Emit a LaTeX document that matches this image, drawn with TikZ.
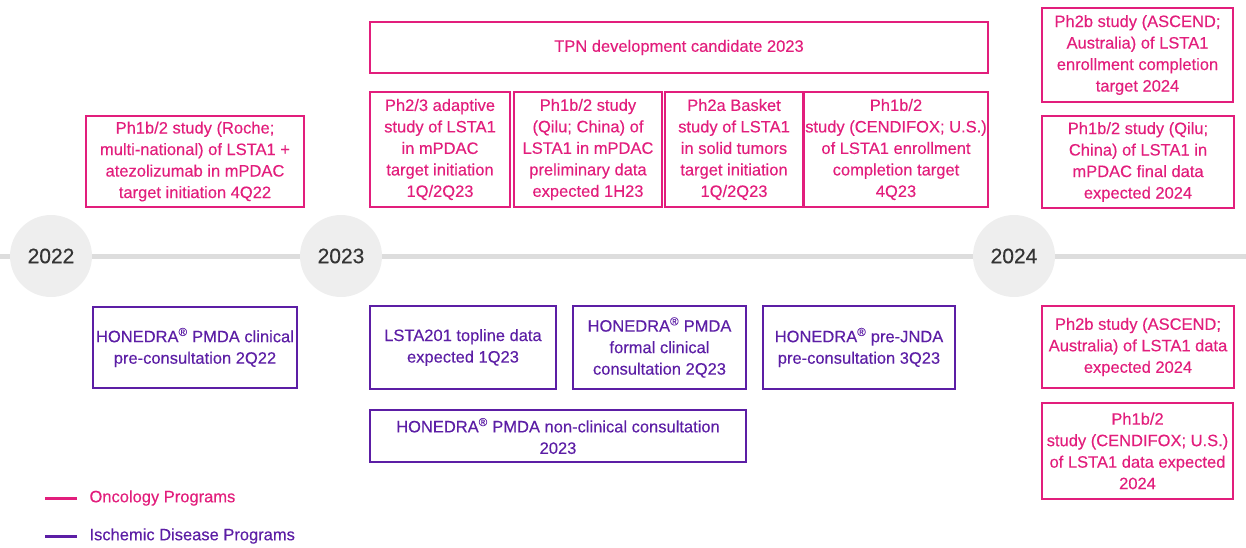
\documentclass[tikz,border=0pt]{standalone}
\usepackage{fontspec}
\setmainfont{Liberation Sans}[FakeBold=0.3]
\definecolor{onco}{RGB}{226,30,124}
\definecolor{isch}{RGB}{92,30,165}
\definecolor{tline}{RGB}{221,221,221}
\definecolor{yearfill}{RGB}{238,238,238}
\definecolor{yeartext}{RGB}{51,51,51}
\newcommand{\regm}{\textsuperscript{®}}
\begin{document}
\begin{tikzpicture}[x=1pt,y=-1pt,
  evbox/.style={draw,rectangle,line width=1.8pt,align=center,inner sep=1pt,
    font=\fontsize{16.5}{21.5}\selectfont},
  oncobox/.style={evbox,draw=onco,text=onco},
  ischbox/.style={evbox,draw=isch,text=isch},
  year/.style={circle,fill=yearfill,minimum size=82pt,inner sep=0pt,
    text=yeartext,font=\fontsize{21}{24}\selectfont},
  legtext/.style={anchor=west,font=\fontsize{16.5}{20}\selectfont},
  legline/.style={line width=3pt}]
\useasboundingbox (0,0) rectangle (1246,547);

% timeline axis and year markers
\coordinate (axisL) at (0,256);
\coordinate (axisR) at (1246,256);
\draw[tline,line width=5pt] (axisL) -- (axisR);
\node[year] (y22) at (51,256) {2022};
\node[year] (y23) at (341,256) {2023};
\node[year] (y24) at (1014,256) {2024};

% oncology milestones
\node[oncobox,minimum width=218pt,minimum height=91pt] (roche) at (195,161.5)
  {Ph1b/2 study (Roche;\\multi-national) of LSTA1 +\\atezolizumab in mPDAC\\target initiation 4Q22};
\node[oncobox,minimum width=618pt,minimum height=51pt] (tpn) at (679,47.5)
  {TPN development candidate 2023};
\node[oncobox,minimum width=140pt,minimum height=115pt] (adapt) at (440,149.5)
  {Ph2/3 adaptive\\study of LSTA1\\in mPDAC\\target initiation\\1Q/2Q23};
\node[oncobox,minimum width=148pt,minimum height=115pt] (qiluA) at (588,149.5)
  {Ph1b/2 study\\(Qilu; China) of\\LSTA1 in mPDAC\\preliminary data\\expected 1H23};
\node[oncobox,minimum width=138pt,minimum height=115pt] (basket) at (734,149.5)
  {Ph2a Basket\\study of LSTA1\\in solid tumors\\target initiation\\1Q/2Q23};
\node[oncobox,minimum width=178pt,minimum height=115pt] (cendiA) at (896,149.5)
  {Ph1b/2\\study (CENDIFOX; U.S.)\\of LSTA1 enrollment\\completion target\\4Q23};
\node[oncobox,minimum width=191pt,minimum height=94pt] (ascendA) at (1137.5,55)
  {Ph2b study (ASCEND;\\Australia) of LSTA1\\enrollment completion\\target 2024};
\node[oncobox,minimum width=192pt,minimum height=92pt] (qiluB) at (1138,162)
  {Ph1b/2 study (Qilu;\\China) of LSTA1 in\\mPDAC final data\\expected 2024};
\node[oncobox,minimum width=192pt,minimum height=82pt] (ascendB) at (1138,347)
  {Ph2b study (ASCEND;\\Australia) of LSTA1 data\\expected 2024};
\node[oncobox,minimum width=191pt,minimum height=96pt] (cendiB) at (1137.5,451)
  {Ph1b/2\\study (CENDIFOX; U.S.)\\of LSTA1 data expected\\2024};

% ischemic disease milestones
\node[ischbox,minimum width=204pt,minimum height=81pt] (honA) at (195,347.5)
  {HONEDRA\regm{} PMDA clinical\\pre-consultation 2Q22};
\node[ischbox,minimum width=186pt,minimum height=83pt] (lsta) at (463,347.5)
  {LSTA201 topline data\\expected 1Q23};
\node[ischbox,minimum width=173pt,minimum height=83pt] (honB) at (659.5,347.5)
  {HONEDRA\regm{} PMDA\\formal clinical\\consultation 2Q23};
\node[ischbox,minimum width=192pt,minimum height=83pt] (honC) at (859,347.5)
  {HONEDRA\regm{} pre-JNDA\\pre-consultation 3Q23};
\node[ischbox,minimum width=376pt,minimum height=52pt] (honD) at (558,436)
  {HONEDRA\regm{} PMDA non-clinical consultation\\2023};

% legend
\node[legtext,text=onco] (legO) at (86,498) {Oncology Programs};
\node[legtext,text=isch] (legI) at (86,536) {Ischemic Disease Programs};
\draw[legline,onco] ([xshift=-9pt]legO.west) -- ++(-32,0);
\draw[legline,isch] ([xshift=-9pt]legI.west) -- ++(-32,0);
\end{tikzpicture}
\end{document}
